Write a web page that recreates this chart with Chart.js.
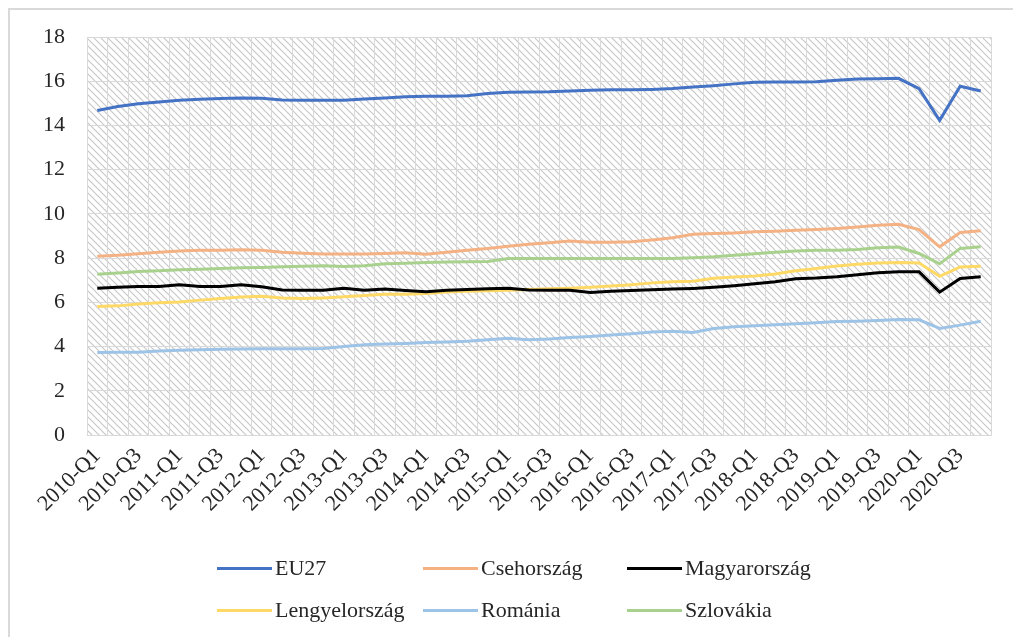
<!DOCTYPE html>
<html>
<head>
<meta charset="utf-8">
<script src="https://cdn.jsdelivr.net/npm/chart.js@4.4.1/dist/chart.umd.min.js"></script>
<style>
    body { margin: 0; background: #fff; overflow: hidden; }
    #wrap { position: relative; width: 1013px; height: 637px; overflow: hidden; }
    #frame { position: absolute; left: 8px; top: 8px; width: 1100px; height: 700px;
             border-top: 2px solid #d9d9d9; border-left: 2px solid #d9d9d9; }
    #chart { position: absolute; left: 0; top: 0; }
    #legend { position: absolute; left: 217px; top: 547px; display: grid;
              grid-template-columns: 206px 204px auto; grid-auto-rows: 42px;
              font-family: "Liberation Serif", serif; font-size: 22px; color: #262626; }
    #legend .item { display: flex; align-items: center; white-space: nowrap; }
    #legend .swatch { width: 55px; height: 3px; margin-right: 3px; }
</style>
</head>
<body>
<div id="wrap">
    <div id="frame"></div>
    <canvas id="chart" width="1013" height="637"></canvas>
    <div id="legend"></div>
</div>
<script>
var categories = [
    "2010-Q1", "2010-Q2", "2010-Q3", "2010-Q4", "2011-Q1", "2011-Q2", "2011-Q3", "2011-Q4",
    "2012-Q1", "2012-Q2", "2012-Q3", "2012-Q4", "2013-Q1", "2013-Q2", "2013-Q3", "2013-Q4",
    "2014-Q1", "2014-Q2", "2014-Q3", "2014-Q4", "2015-Q1", "2015-Q2", "2015-Q3", "2015-Q4",
    "2016-Q1", "2016-Q2", "2016-Q3", "2016-Q4", "2017-Q1", "2017-Q2", "2017-Q3", "2017-Q4",
    "2018-Q1", "2018-Q2", "2018-Q3", "2018-Q4", "2019-Q1", "2019-Q2", "2019-Q3", "2019-Q4",
    "2020-Q1", "2020-Q2", "2020-Q3", "2020-Q4"
];

// only every other quarter gets a label on the axis
var shownTicks = [
    "2010-Q1", "2010-Q3", "2011-Q1", "2011-Q3", "2012-Q1", "2012-Q3", "2013-Q1", "2013-Q3",
    "2014-Q1", "2014-Q3", "2015-Q1", "2015-Q3", "2016-Q1", "2016-Q3", "2017-Q1", "2017-Q3",
    "2018-Q1", "2018-Q3", "2019-Q1", "2019-Q3", "2020-Q1", "2020-Q3"
];

var eu27 = [14.68, 14.86, 14.98, 15.06, 15.14, 15.18, 15.22, 15.24, 15.23, 15.15, 15.14, 15.14,
    15.14, 15.20, 15.24, 15.30, 15.32, 15.32, 15.34, 15.44, 15.50, 15.51, 15.52, 15.56,
    15.59, 15.61, 15.61, 15.63, 15.67, 15.74, 15.80, 15.88, 15.95, 15.96, 15.96, 15.98,
    16.04, 16.10, 16.11, 16.13, 15.66, 14.23, 15.77, 15.56];
var csehorszag = [8.08, 8.13, 8.20, 8.27, 8.32, 8.35, 8.36, 8.38, 8.36, 8.27, 8.22, 8.19,
    8.19, 8.19, 8.21, 8.24, 8.18, 8.27, 8.36, 8.44, 8.54, 8.63, 8.69, 8.77,
    8.72, 8.72, 8.74, 8.82, 8.92, 9.08, 9.11, 9.14, 9.19, 9.22, 9.26, 9.29,
    9.34, 9.41, 9.49, 9.53, 9.29, 8.51, 9.16, 9.24];
var magyarorszag = [6.64, 6.68, 6.72, 6.72, 6.80, 6.72, 6.72, 6.80, 6.70, 6.56, 6.55, 6.55,
    6.64, 6.55, 6.60, 6.53, 6.48, 6.55, 6.58, 6.61, 6.64, 6.56, 6.55, 6.55,
    6.44, 6.50, 6.53, 6.57, 6.60, 6.63, 6.68, 6.75, 6.84, 6.93, 7.07, 7.10,
    7.16, 7.25, 7.34, 7.38, 7.38, 6.46, 7.08, 7.16];
var lengyelorszag = [5.81, 5.84, 5.92, 5.98, 6.02, 6.10, 6.17, 6.24, 6.27, 6.20, 6.17, 6.20,
    6.25, 6.31, 6.36, 6.37, 6.40, 6.47, 6.50, 6.52, 6.55, 6.58, 6.61, 6.64,
    6.68, 6.74, 6.80, 6.88, 6.93, 6.95, 7.09, 7.15, 7.19, 7.28, 7.43, 7.53,
    7.64, 7.72, 7.78, 7.80, 7.78, 7.18, 7.60, 7.63];
var romania = [3.73, 3.74, 3.74, 3.80, 3.83, 3.85, 3.88, 3.89, 3.90, 3.90, 3.90, 3.91,
    4.00, 4.08, 4.11, 4.14, 4.18, 4.21, 4.24, 4.31, 4.38, 4.31, 4.34, 4.41,
    4.46, 4.52, 4.58, 4.66, 4.69, 4.64, 4.82, 4.90, 4.94, 4.99, 5.03, 5.08,
    5.13, 5.15, 5.18, 5.22, 5.21, 4.82, 4.97, 5.14];
var szlovakia = [7.27, 7.33, 7.39, 7.43, 7.47, 7.50, 7.53, 7.56, 7.58, 7.61, 7.63, 7.65,
    7.62, 7.66, 7.74, 7.77, 7.80, 7.82, 7.83, 7.85, 7.98, 7.98, 7.98, 7.98,
    7.98, 7.98, 7.98, 7.98, 7.98, 8.02, 8.06, 8.13, 8.20, 8.27, 8.32, 8.35,
    8.36, 8.39, 8.47, 8.50, 8.21, 7.74, 8.44, 8.51];

var seriesNames = ["EU27", "Csehország", "Magyarország", "Lengyelország", "Románia", "Szlovákia"];
var seriesData = [eu27, csehorszag, magyarorszag, lengyelorszag, romania, szlovakia];
var seriesColors = ["#4472c4", "#f4b183", "#000000", "#ffd966", "#9dc3e6", "#a9d18e"];

var serif = "'Liberation Serif', 'Times New Roman', serif";
var gridColor = "#d9d9d9";

// diagonal hatching behind the plot area
var hatchPlugin = {
    id: 'hatch',
    beforeDraw: function (chart) {
        var a = chart.chartArea;
        var ctx = chart.ctx;
        var tile = document.createElement('canvas');
        tile.width = 7;
        tile.height = 7;
        var g = tile.getContext('2d');
        g.strokeStyle = '#c8c8c8';
        g.lineWidth = 1.2;
        g.beginPath();
        g.moveTo(-1, -1); g.lineTo(8, 8);
        g.moveTo(-1, 6); g.lineTo(1, 8);
        g.moveTo(6, -1); g.lineTo(8, 1);
        g.stroke();
        ctx.save();
        ctx.fillStyle = ctx.createPattern(tile, 'repeat');
        ctx.fillRect(a.left, a.top, a.right - a.left, a.bottom - a.top);
        ctx.restore();
    }
};

var htmlLegend = {
    id: 'htmlLegend',
    afterUpdate: function (chart) {
        var box = document.getElementById('legend');
        box.innerHTML = '';
        chart.data.datasets.forEach(function (ds) {
            var item = document.createElement('div');
            item.className = 'item';
            var sw = document.createElement('span');
            sw.className = 'swatch';
            sw.style.background = ds.borderColor;
            var txt = document.createElement('span');
            txt.textContent = ds.label;
            item.appendChild(sw);
            item.appendChild(txt);
            box.appendChild(item);
        });
    }
};

var datasets = [];
for (var i = 0; i < seriesNames.length; i++) {
    datasets.push({
        label: seriesNames[i],
        data: seriesData[i],
        borderColor: seriesColors[i],
        backgroundColor: seriesColors[i],
        borderWidth: 3,
        pointRadius: 0,
        tension: 0
    });
}

var chart = new Chart(document.getElementById('chart'), {
    type: 'line',
    data: {
        labels: categories,
        datasets: datasets
    },
    plugins: [hatchPlugin, htmlLegend],
    options: {
        responsive: false,
        animation: false,
        layout: {
            padding: {left: 43, top: 37, right: 22, bottom: 102}
        },
        plugins: {
            legend: {display: false},
            tooltip: {enabled: false}
        },
        scales: {
            x: {
                offset: true,
                grid: {color: gridColor, offset: true, drawTicks: false},
                border: {color: gridColor},
                afterFit: function (scale) { scale.height = 100; },
                ticks: {
                    autoSkip: false,
                    minRotation: 45,
                    maxRotation: 45,
                    padding: 8,
                    color: '#262626',
                    font: {family: serif, size: 22},
                    callback: function (val, idx) {
                        var lab = categories[idx];
                        return shownTicks.indexOf(lab) >= 0 ? lab : '';
                    }
                }
            },
            y: {
                min: 0,
                max: 18,
                grid: {color: gridColor, drawTicks: false},
                border: {color: gridColor},
                afterFit: function (scale) { scale.width = 44; },
                ticks: {
                    stepSize: 2,
                    padding: 22,
                    color: '#262626',
                    font: {family: serif, size: 22}
                }
            }
        }
    }
});
</script>
</body>
</html>
